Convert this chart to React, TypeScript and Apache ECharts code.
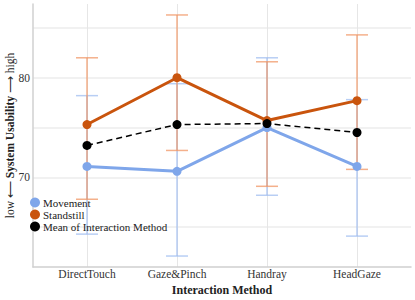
import React, { useEffect, useRef } from "react";
import * as echarts from "echarts";

const categories = ["DirectTouch", "Gaze&Pinch", "Handray", "HeadGaze"];
const movement = [71.1, 70.6, 75.0, 71.1];
const movementLow = [64.3, 62.1, 68.2, 64.1];
const movementHigh = [78.2, 79.4, 82.0, 77.8];
const standstill = [75.3, 80.0, 75.7, 77.7];
const standstillLow = [67.8, 72.7, 69.1, 70.8];
const standstillHigh = [82.0, 86.3, 81.6, 84.3];
const meanIM = [73.2, 75.3, 75.4, 74.5];
const yTicks = [65, 70, 75, 80, 85];
const yLabels = [70, 80];

const FONT = "Liberation Serif";

export default function App() {
  const ref = useRef<HTMLDivElement>(null);
  useEffect(() => {
    const chart = echarts.init(ref.current!, null, { renderer: "svg" });
    const errSeries = (name: string, low: number[], high: number[], color: string) => ({
      type: "custom",
      name: name + "err",
      z: 1,
      silent: true,
      data: categories.map((_, i) => [i, low[i], high[i]]),
      renderItem: (params: any, api: any) => {
        const x = api.value(0);
        const lo = api.coord([x, api.value(1)]);
        const hi = api.coord([x, api.value(2)]);
        const hw = 11;
        const style = { stroke: color, lineWidth: 1.5, fill: null };
        return {
          type: "group",
          children: [
            { type: "line", shape: { x1: lo[0], y1: lo[1], x2: hi[0], y2: hi[1] }, style },
            { type: "line", shape: { x1: lo[0] - hw, y1: lo[1], x2: lo[0] + hw, y2: lo[1] }, style },
            { type: "line", shape: { x1: hi[0] - hw, y1: hi[1], x2: hi[0] + hw, y2: hi[1] }, style },
          ],
        };
      },
    });
    chart.setOption({
      animation: false,
      textStyle: { fontFamily: FONT },
      grid: { left: 33, right: 4, top: 4, bottom: 33, containLabel: false, outerBoundsMode: "none" },
      legend: {
        left: 25,
        top: 192,
        orient: "vertical",
        itemGap: 1,
        itemWidth: 10,
        itemHeight: 10,
        icon: "circle",
        data: ["Movement", "Standstill", "Mean of Interaction Method"],
        textStyle: { fontFamily: FONT, fontSize: 11, color: "#222", padding: [0, 0, 0, -2] },
      },
      xAxis: {
        type: "value",
        min: -0.6,
        max: 3.6,
        axisLine: { show: true, onZero: false, lineStyle: { color: "#d0d0d0", width: 1.5 } },
        axisTick: { show: false, customValues: [0, 1, 2, 3] },
        splitLine: { show: true, lineStyle: { color: "#e6e6e6", width: 1 } },
        axisLabel: {
          customValues: [0, 1, 2, 3],
          formatter: (v: number) => categories[Math.round(v)] ?? "",
          fontFamily: FONT,
          fontSize: 11.5,
          color: "#333",
          margin: 1,
        },
        name: "Interaction Method",
        nameLocation: "middle",
        nameGap: 17,
        nameMoveOverlap: false,
        nameTextStyle: { fontFamily: FONT, fontSize: 12, fontWeight: "bold", color: "#222" },
      },
      yAxis: {
        type: "value",
        min: 61,
        max: 87.4,
        axisLine: { show: true, onZero: false, lineStyle: { color: "#d0d0d0", width: 1.5 } },
        axisTick: { show: false, customValues: yTicks },
        splitLine: { show: true, lineStyle: { color: "#ececec", width: 1.5 } },
        axisLabel: {
          customValues: yLabels,
          fontFamily: FONT,
          fontSize: 11.5,
          color: "#333",
          margin: 3,
        },
        name: "{n|low ⟵ }{b|System Usability}{n| ⟶ high}",
        nameLocation: "middle",
        nameGap: 17,
        nameMoveOverlap: false,
        nameTextStyle: {
          fontFamily: FONT,
          fontSize: 11.5,
          rich: {
            n: { fontFamily: FONT, fontSize: 11.5, color: "#222" },
            b: { fontFamily: FONT, fontSize: 11.5, fontWeight: "bold", color: "#222" },
          },
        },
      },
      series: [
        errSeries("Movement", movementLow, movementHigh, "rgba(160,190,240,0.75)"),
        errSeries("Standstill", standstillLow, standstillHigh, "rgba(240,150,100,0.75)"),
        {
          name: "Movement",
          type: "line",
          z: 3,
          data: movement.map((v, i) => [i, v]),
          color: "#7fa6ea",
          lineStyle: { width: 3, color: "#7fa6ea" },
          symbol: "circle",
          symbolSize: 9,
          itemStyle: { color: "#7fa6ea" },
        },
        {
          name: "Standstill",
          type: "line",
          z: 4,
          data: standstill.map((v, i) => [i, v]),
          color: "#c9540d",
          lineStyle: { width: 3, color: "#c9540d" },
          symbol: "circle",
          symbolSize: 9,
          itemStyle: { color: "#c9540d" },
        },
        {
          name: "Mean of Interaction Method",
          type: "line",
          z: 5,
          data: meanIM.map((v, i) => [i, v]),
          color: "#000",
          lineStyle: { width: 1.5, color: "#000", type: [6, 4] },
          symbol: "circle",
          symbolSize: 9,
          itemStyle: { color: "#000" },
        },
      ],
    });
    return () => chart.dispose();
  }, []);
  return <div ref={ref} style={{ width: 415, height: 300, position: "absolute", left: 0, top: 0 }} />;
}
